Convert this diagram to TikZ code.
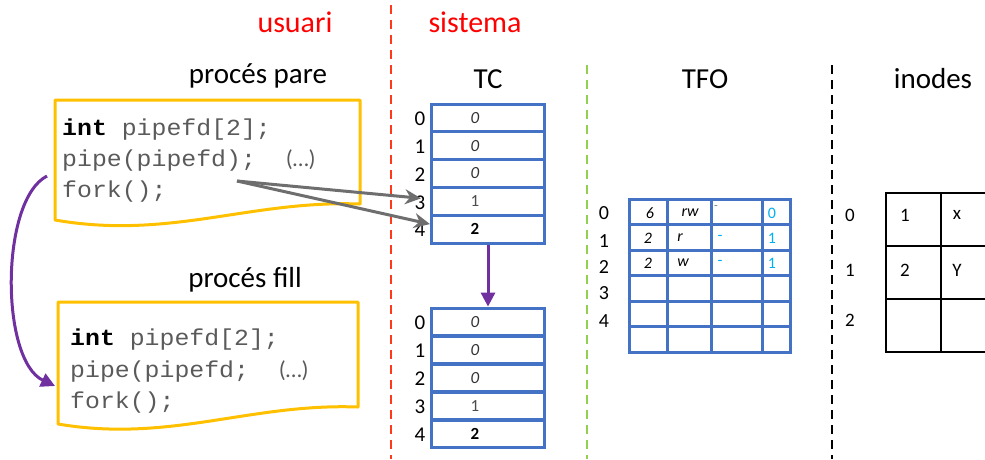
\documentclass[tikz,border=0pt]{standalone}
\usepackage{fontspec}
\setmainfont{Carlito}
\newfontfamily\codefont{Liberation Mono}[FakeStretch=1.08]
\usetikzlibrary{arrows.meta, positioning, calc}
\definecolor{boxyellow}{HTML}{FFC000}
\definecolor{tblue}{HTML}{4472C4}
\definecolor{forkpurple}{HTML}{7030A0}
\definecolor{ptrgray}{HTML}{6E6E6E}
\definecolor{refcyan}{HTML}{00B0F0}
\definecolor{sepred}{HTML}{FF3A1A}
\definecolor{sepgreen}{HTML}{92D050}
\definecolor{codegray}{HTML}{5A5A5A}

\tikzset{
  title/.style={font=\fontsize{29}{34}\selectfont, inner sep=0pt, anchor=base},
  side/.style={font=\fontsize{30}{36}\selectfont, text=red, inner sep=0pt, anchor=base},
  codeline/.style={font=\codefont\fontsize{23}{28}\selectfont, text=codegray, anchor=base west, inner sep=0pt},
  docbox/.style={draw=boxyellow, line width=3pt, line join=round},
  sep/.style={line width=2.5pt, dash pattern=on 9pt off 6pt},
  tccell/.style={draw=tblue, line width=3pt, minimum width=113pt, minimum height=27.8pt, inner sep=0pt},
  tcnum/.style={font=\fontsize{21}{24}\selectfont, inner sep=0pt},
  tcz/.style={font=\itshape\fontsize{17}{19}\selectfont, text=black!80, inner sep=0pt},
  tco/.style={font=\fontsize{17}{19}\selectfont, text=black!70, inner sep=0pt},
  tct/.style={font=\bfseries\fontsize{17}{19}\selectfont, inner sep=0pt},
  tfocell/.style={draw=tblue, line width=3pt, minimum height=25.5pt, inner sep=0pt},
  tfonum/.style={font=\fontsize{20}{23}\selectfont, inner sep=0pt},
  tfotxt/.style={font=\itshape\fontsize{16}{18}\selectfont, inner sep=0pt},
  tforef/.style={font=\fontsize{16}{18}\selectfont, text=refcyan, inner sep=0pt},
  inocell/.style={draw=black, line width=1.8pt, minimum height=53pt, inner sep=0pt},
  inotxt/.style={font=\fontsize{19}{22}\selectfont, inner sep=0pt},
  fork/.style={draw=forkpurple, line width=3pt, -{Triangle[length=14pt, width=14pt]}},
  ptr/.style={draw=ptrgray, line width=3pt, -{Stealth[length=16pt, width=15pt]}}
}

\begin{document}
\begin{tikzpicture}[x=1pt, y=-1pt]
  \useasboundingbox (0,0) rectangle (985,459);
  % user / system split
  \draw[sep, sepred] (391,5) -- (391,459);
  \draw[sep, sepgreen] (587,65) -- (587,459);
  \draw[sep, black] (832,65) -- (832,459);
  \node[side] (usuari) at (295,32) {usuari};
  \node[side] (sistema) at (475,32) {sistema};

  % parent process
  \node[title] (pareT) at (258,83) {procés pare};
  \draw[docbox] (55,100) -- (360,100) -- (360,204)
    .. controls (250,200) and (170,240) .. (55,220) -- cycle;
  \node[codeline] (pareL1) at (62,135) {\textcolor{black}{\textbf{int}} pipefd[2];};
  \node[codeline] (pareL2) at (62,166) {pipe(pipefd);\ \ {\rmfamily\fontsize{23}{26}\selectfont(…)}};
  \node[codeline] (pareL3) at (62,197) {fork();};
  \coordinate (pipeArr) at (237,181);
  \coordinate (forkArr) at (47,176);

  % child process
  \node[title] (fillT) at (245,287) {procés fill};
  \draw[docbox] (58,302) -- (358,302) -- (358,407)
    .. controls (250,403) and (170,443) .. (58,424) -- cycle;
  \node[codeline] (fillL1) at (70,345) {\textcolor{black}{\textbf{int}} pipefd[2];};
  \node[codeline] (fillL2) at (70,377) {pipe(pipefd;\ \ {\rmfamily\fontsize{23}{26}\selectfont(…)}};
  \node[codeline] (fillL3) at (70,408) {fork();};
  \coordinate (fillIn) at (55,386);

  % channel tables
  \node[title] (tcT) at (488,88) {TC};
  \foreach \i/\v/\s in {0/0/tcz, 1/0/tcz, 2/0/tcz, 3/1/tco, 4/2/tct} {
    \node[tccell] (tcA-\i) at (488,{117.9+27.8*\i}) {};
    \node[\s] (tcAv-\i) at (475,{117.9+27.8*\i}) {\v};
    \node[tcnum] (tcAn-\i) at (420,{119+27.8*\i}) {\i};
    \node[tccell] (tcB-\i) at (488,{322+28*\i}) {};
    \node[\s] (tcBv-\i) at (475,{322+28*\i}) {\v};
    \node[tcnum] (tcBn-\i) at (420,{323+28*\i}) {\i};
  }

  % open files table
  \node[title] (tfoT) at (705,88) {TFO};
  \foreach \r in {0,...,5}
    \foreach \c/\x/\w in {0/648/38, 1/689/44, 2/736.5/51, 3/776/28}
      \node[tfocell, minimum width=\w] (tfo-\r-\c) at (\x,{211.75+25.5*\r}) {};
  \foreach \i/\y in {0/213, 1/241, 2/267, 3/293, 4/321}
    \node[tfonum] (tfoN-\i) at (604,\y) {\i};
  \node[tfotxt] (tfoA-0) at (650,213) {6};
  \node[tfotxt] (tfoB-0) at (690,213) {rw};
  \node[font=\fontsize{12}{14}\selectfont, text=black!55, inner sep=0pt] (tfoC-0) at (716,208) {-};
  \node[tforef] (tfoD-0) at (772,213) {0};
  \node[tfotxt] (tfoA-1) at (648,238) {2};
  \node[tfotxt] (tfoB-1) at (680,238) {r};
  \node[tforef] (tfoC-1) at (720,238) {-};
  \node[tforef] (tfoD-1) at (772,238) {1};
  \node[tfotxt] (tfoA-2) at (648,263) {2};
  \node[tfotxt] (tfoB-2) at (683,263) {w};
  \node[tforef] (tfoC-2) at (720,263) {-};
  \node[tforef] (tfoD-2) at (772,263) {1};

  % inode table
  \node[title] (inoT) at (933,88) {inodes};
  \foreach \r in {0,1,2} {
    \node[inocell, minimum width=55pt] (ino-\r-0) at (913.5,{219.5+53*\r}) {};
    \node[inocell, minimum width=78pt] (ino-\r-1) at (980,{219.5+53*\r}) {};
  }
  \foreach \i/\y in {0/215, 1/270, 2/320}
    \node[inotxt] (inoN-\i) at (850,\y) {\i};
  \node[inotxt] (inoA-0) at (905,215) {1};
  \node[inotxt] (inoB-0) at (957,215) {x};
  \node[inotxt] (inoA-1) at (905,270) {2};
  \node[inotxt] (inoB-1) at (957,270) {Y};

  % connectors
  \draw[fork] (forkArr) .. controls (0,200) and (0,360) .. (fillIn);
  \draw[fork] (tcA-4.south) -- (tcB-0.north);
  \draw[ptr] (pipeArr) -- ([xshift=-9pt, yshift=3pt]tcA-3.west);
  \draw[ptr] (pipeArr) -- ([yshift=5pt]tcA-4.west);
\end{tikzpicture}
\end{document}
